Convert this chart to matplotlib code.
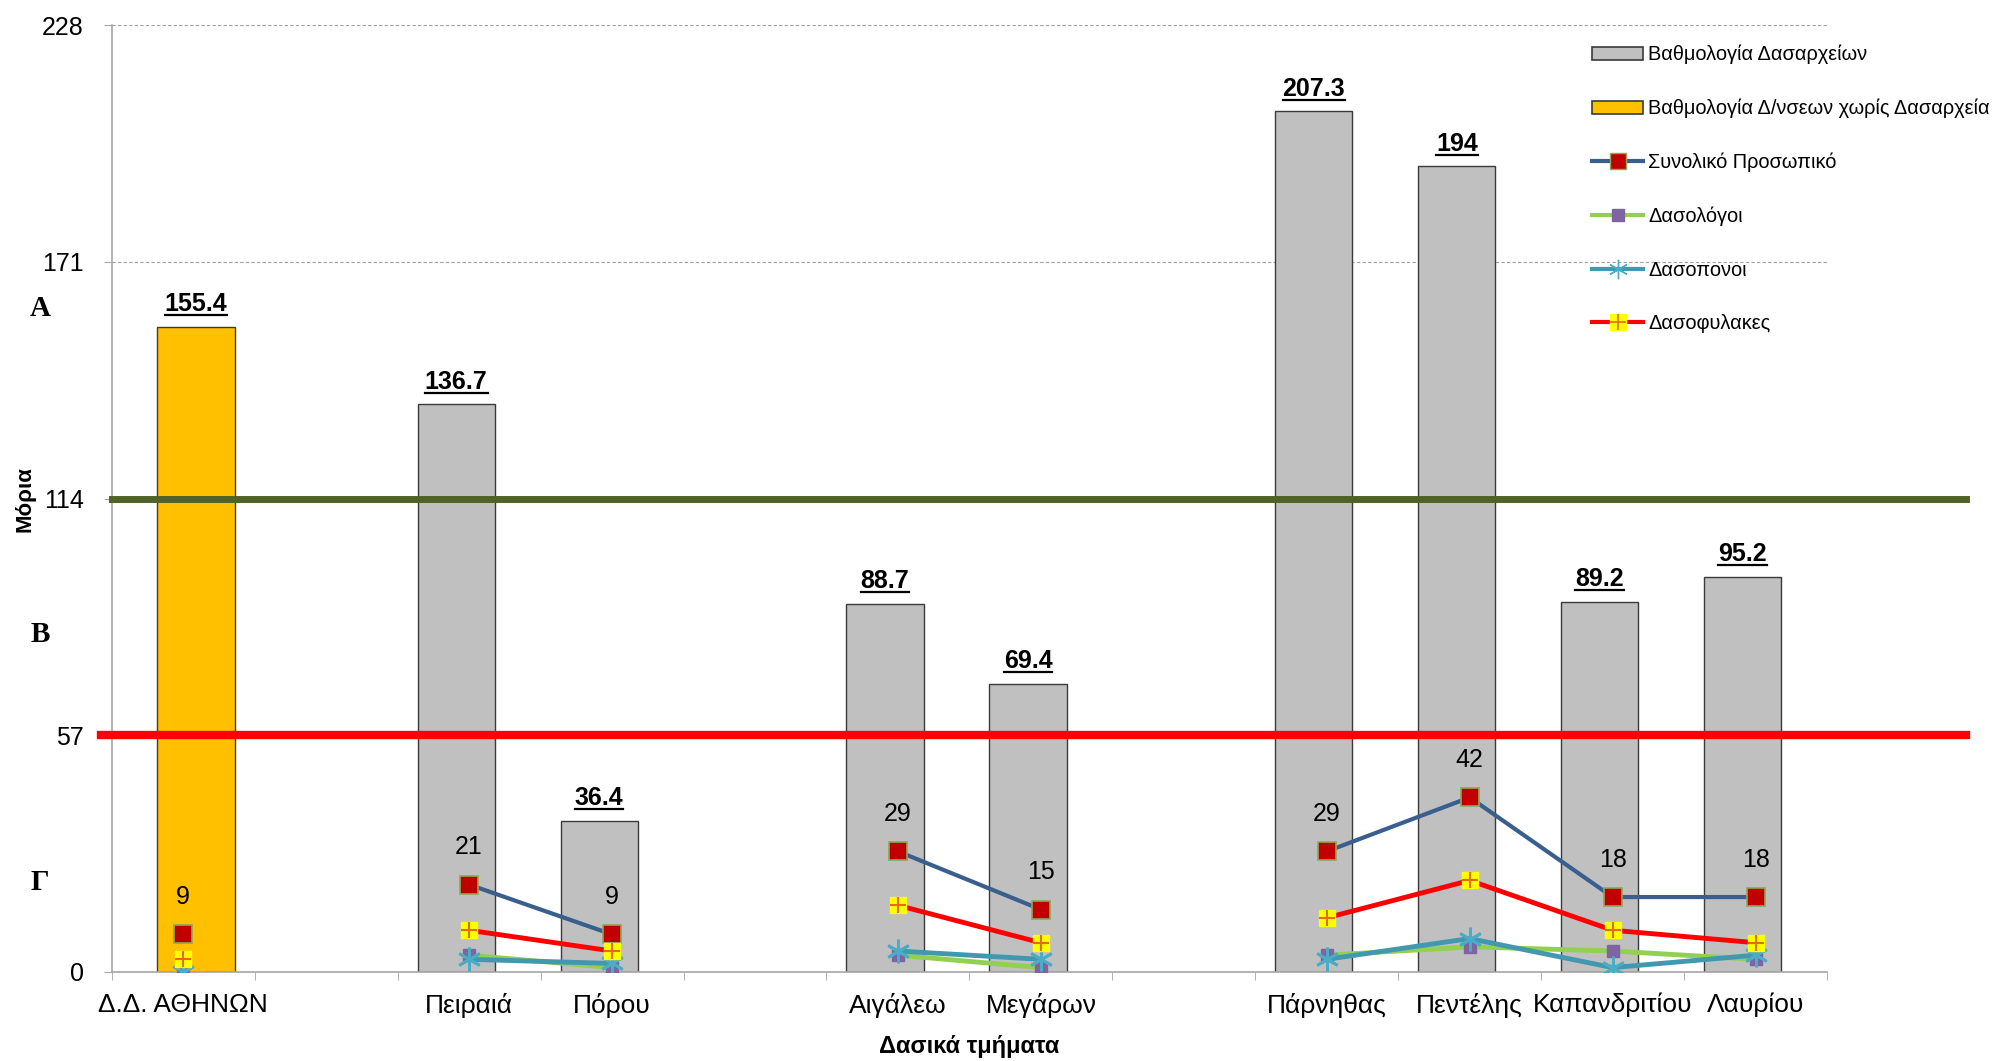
import numpy as np
import matplotlib
matplotlib.use('Agg')
import matplotlib.pyplot as plt
from matplotlib import font_manager
from matplotlib.lines import Line2D
from matplotlib.patches import Patch

names = {f.name for f in font_manager.fontManager.ttflist}
NARROW = 'Liberation Sans Narrow' if 'Liberation Sans Narrow' in names else 'Liberation Sans'

nan = np.nan
categories = ['Δ.Δ. ΑΘΗΝΩΝ', '', 'Πειραιά', 'Πόρου', '', 'Αιγάλεω', 'Μεγάρων', '',
              'Πάρνηθας', 'Πεντέλης', 'Καπανδριτίου', 'Λαυρίου']
score_dasarxeia = [nan, nan, 136.7, 36.4, nan, 88.7, 69.4, nan, 207.3, 194, 89.2, 95.2]
score_dnseis = [155.4, nan, nan, nan, nan, nan, nan, nan, nan, nan, nan, nan]
synoliko = [9, nan, 21, 9, nan, 29, 15, nan, 29, 42, 18, 18]
dasologoi = [0, nan, 4, 1, nan, 4, 1, nan, 4, 6, 5, 3]
dasoponoi = [0, nan, 3, 2, nan, 5, 3, nan, 3, 8, 1, 4]
dasofylakes = [3, nan, 10, 5, nan, 16, 7, nan, 13, 22, 10, 7]
y_ticks = [0, 57, 114, 171, 228]
limit_b = 57
limit_a = 114
class_letters = ['Α', 'Β', 'Γ']

x = np.arange(len(categories))

fig = plt.figure(figsize=(19.92, 10.61), dpi=100)
ax = fig.add_axes([0.0561, 0.0841, 0.8611, 0.8920])

bw = 0.54
off = 0.09
ax.bar(x - off, score_dasarxeia, bw, color='#C0C0C0', edgecolor='#3A3A3A', lw=1.0, zorder=2)
ax.bar(x + off, score_dnseis, bw, color='#FFC000', edgecolor='#3A3A3A', lw=1.0, zorder=2)

# threshold lines run past the plot area
ax.axhline(limit_a, xmin=0.0, xmax=1.081, color='#4F6228', lw=5, clip_on=False, zorder=3)
ax.axhline(limit_b, xmin=-0.006, xmax=1.081, color='#FF0000', lw=6, clip_on=False, zorder=3)

ax.plot(x, synoliko, color='#3A5F8E', lw=3, marker='s', ms=13, mfc='#C00000',
        mec='#8DA856', mew=1.2, zorder=5)
ax.plot(x, dasologoi, color='#92D050', lw=3.5, marker='s', ms=9, mfc='#8064A2',
        mec='#8064A2', zorder=5)
ax.plot(x, dasoponoi, color='#4198AF', lw=3.5, marker=(6, 2, 0), ms=17, mec='#4BACC6',
        mew=2, zorder=6)
ax.plot(x, dasofylakes, color='#FF0000', lw=3.5, marker='s', ms=12, mfc='#FFFF00',
        mec='#FFFF00', zorder=7)
ax.plot(x, dasofylakes, ls='none', marker='+', ms=12, mec='#E46C0A', mew=1.5, zorder=8)

bar_texts = []
for xi, v in zip(x - off, score_dasarxeia):
    if not np.isnan(v):
        bar_texts.append(ax.annotate(f'{v:g}', (xi, v), xytext=(0, 11), textcoords='offset points',
                                     ha='center', va='baseline', fontsize=18, fontweight='bold',
                                     family=NARROW))
for xi, v in zip(x + off, score_dnseis):
    if not np.isnan(v):
        bar_texts.append(ax.annotate(f'{v:g}', (xi, v), xytext=(0, 11), textcoords='offset points',
                                     ha='center', va='baseline', fontsize=18, fontweight='bold',
                                     family=NARROW))

for xi, v in zip(x, synoliko):
    if not np.isnan(v):
        ax.annotate(f'{v:g}', (xi, v), xytext=(0, 27), textcoords='offset points',
                    ha='center', va='center', fontsize=18, family=NARROW, zorder=9)

ax.set_xlim(-0.5, len(categories) - 0.5)
ax.set_ylim(0, 228)
ax.set_yticks(y_ticks)
ax.set_yticklabels([str(t) for t in y_ticks], family=NARROW, fontsize=18)
ax.set_xticks(x)
ax.set_xticklabels(categories, family=NARROW, fontsize=19)
ax.set_xticks(np.arange(-0.5, len(categories), 1), minor=True)
ax.tick_params(axis='x', which='major', length=0, pad=15)
ax.tick_params(axis='x', which='minor', length=6, color='#A6A6A6', direction='out')
ax.tick_params(axis='y', length=6, color='#A6A6A6', pad=14)

ax.yaxis.grid(True, ls=(0, (3, 2)), color='#A0A0A0', lw=0.8, zorder=0)
ax.set_axisbelow(True)
for s in ['top', 'right']:
    ax.spines[s].set_visible(False)
for s in ['left', 'bottom']:
    ax.spines[s].set_color('#A6A6A6')
    ax.spines[s].set_linewidth(1.2)

fig.text(25 / 1992, 1 - 499 / 1061, 'Μόρια', rotation=90, ha='center', va='center',
         fontsize=16, fontweight='bold', family=NARROW)
fig.text(969 / 1992, 1 - 1046 / 1061, 'Δασικά τμήματα', ha='center', va='center',
         fontsize=17, fontweight='bold', family=NARROW)
for letter, yy in zip(class_letters, [309, 634, 883]):
    fig.text(40 / 1992, 1 - yy / 1061, letter, ha='center', va='center', fontsize=21,
             fontweight='bold', family='Liberation Serif')

handles = [
    Patch(facecolor='#C0C0C0', edgecolor='#3A3A3A', lw=1.2),
    Patch(facecolor='#FFC000', edgecolor='#3A3A3A', lw=1.2),
    Line2D([], [], color='#3A5F8E', lw=3, marker='s', ms=12, mfc='#C00000', mec='#8DA856'),
    Line2D([], [], color='#92D050', lw=3, marker='s', ms=9, mfc='#8064A2', mec='#8064A2'),
    Line2D([], [], color='#4198AF', lw=3, marker=(6, 2, 0), ms=14, mec='#4BACC6', mew=1),
    (Line2D([], [], color='#FF0000', lw=3, marker='s', ms=11, mfc='#FFFF00', mec='#FFFF00'),
     Line2D([], [], ls='none', marker='+', ms=11, mec='#E46C0A', mew=1.2)),
]
labels = ['Βαθμολογία Δασαρχείων', 'Βαθμολογία Δ/νσεων χωρίς Δασαρχεία', 'Συνολικό Προσωπικό',
          'Δασολόγοι', 'Δασοπονοι', 'Δασοφυλακες']
fig.legend(handles, labels, loc='upper left', bbox_to_anchor=(1582 / 1992, 1 - 35 / 1061),
           frameon=False, borderpad=0, labelspacing=1.72, handlelength=2.55, handleheight=0.65,
           handletextpad=0.25, prop={'family': 'Liberation Sans', 'size': 14.4})

# underline the bar values
fig.canvas.draw()
inv = fig.transFigure.inverted()
for t in bar_texts:
    bb = t.get_window_extent()
    (x0, y0), (x1, _) = inv.transform([(bb.x0, bb.y0 + 1), (bb.x1, bb.y0)])
    fig.add_artist(Line2D([x0, x1], [y0, y0], color='black', lw=1.6))

fig.savefig('out.png', dpi=100)
